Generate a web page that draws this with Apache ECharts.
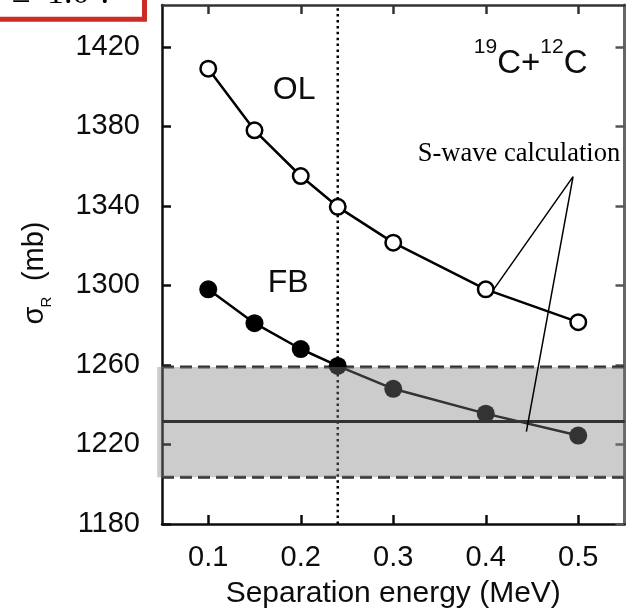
<!DOCTYPE html>
<html>
<head>
<meta charset="utf-8">
<script src="https://cdn.jsdelivr.net/npm/echarts@6/dist/echarts.min.js"></script>
<style>
  html, body { margin: 0; padding: 0; background: #fff; }
  #chart { width: 633px; height: 609px; }
</style>
</head>
<body>
<div id="chart"></div>
<script>
// ---- data ----
const sepEnergy = [0.1, 0.15, 0.2, 0.24, 0.3, 0.4, 0.5];
const olValues  = [1409, 1378, 1355, 1339.5, 1321.5, 1298, 1281.5];
const fbValues  = [1298, 1281, 1268, 1259.5, 1248, 1235.5, 1224.5];
const xTickValues = [0.1, 0.2, 0.3, 0.4, 0.5];
const yTickValues = [1180, 1220, 1260, 1300, 1340, 1380, 1420];
const sWaveMean = 1231.5;
const sWaveLow = 1203.5;
const sWaveHigh = 1259;
const refEnergy = 0.24;

const X_MIN = 0.05, X_MAX = 0.55, Y_MIN = 1180, Y_MAX = 1441;
const FONT = "'Liberation Sans', Arial, Helvetica, sans-serif";
const SERIF = "'Liberation Serif', 'Times New Roman', serif";
const INK = '#0d0d0d';

const chart = echarts.init(document.getElementById('chart'), null, { renderer: 'canvas' });

function pairs(xs, ys) { return xs.map((x, i) => [x, ys[i]]); }

const xFmt = v => xTickValues.includes(+(+v).toFixed(2)) ? (+v).toFixed(1) : '';
const yFmt = v => yTickValues.includes(Math.round(v)) && Math.abs(v - Math.round(v)) < 1e-6 ? String(Math.round(v)) : '';

function axisBase(color, width) {
  return {
    axisLine: { show: true, onZero: false, lineStyle: { color: color, width: width } },
    splitLine: { show: false },
  };
}

const option = {
  animation: false,
  backgroundColor: '#fff',
  grid: { left: 162, right: 8.5, top: 5, bottom: 85, containLabel: false, outerBoundsMode: 'none' },
  xAxis: [
    Object.assign(axisBase(INK, 2.5), {
      type: 'value', position: 'bottom', min: X_MIN, max: X_MAX,
      axisTick: { show: true, inside: true, length: 9, customValues: xTickValues, lineStyle: { color: INK, width: 2.5 } },
      axisLabel: { show: true, customValues: xTickValues, formatter: xFmt, margin: 19,
                   color: INK, fontSize: 29, fontFamily: FONT },
      name: 'Separation energy (MeV)', nameLocation: 'middle', nameGap: 53,
      nameTextStyle: { color: INK, fontSize: 30, fontFamily: FONT, lineHeight: 34 }
    }),
    Object.assign(axisBase('#333', 2.5), {
      type: 'value', position: 'top', min: X_MIN, max: X_MAX,
      axisTick: { show: true, inside: true, length: 9, customValues: xTickValues, lineStyle: { color: '#333', width: 2.5 } },
      axisLabel: { show: false }
    })
  ],
  yAxis: [
    Object.assign(axisBase(INK, 2.5), {
      type: 'value', position: 'left', min: Y_MIN, max: Y_MAX,
      axisTick: { show: true, inside: true, length: 9, customValues: yTickValues, lineStyle: { color: INK, width: 2.5 } },
      axisLabel: { show: true, customValues: yTickValues, formatter: yFmt, margin: 22,
                   color: INK, fontSize: 29, fontFamily: FONT }
    }),
    Object.assign(axisBase('#666', 3), {
      type: 'value', position: 'right', min: Y_MIN, max: Y_MAX,
      axisTick: { show: true, inside: true, length: 9, customValues: yTickValues, lineStyle: { color: '#555', width: 2.5 } },
      axisLabel: { show: false }
    })
  ],
  series: [
    {
      name: 'OL', type: 'line', z: 2,
      data: pairs(sepEnergy, olValues),
      symbol: 'circle', symbolSize: 15.5,
      itemStyle: { color: '#fff', borderColor: '#000', borderWidth: 2.5 },
      lineStyle: { color: '#000', width: 2.5 },
      emphasis: { disabled: true }, silent: true
    },
    {
      name: 'FB', type: 'line', z: 2,
      data: pairs(sepEnergy, fbValues),
      symbol: 'circle', symbolSize: 18,
      itemStyle: { color: '#000' },
      lineStyle: { color: '#000', width: 2.5 },
      emphasis: { disabled: true }, silent: true
    },
    {
      name: 'ref energy', type: 'line', z: 2, symbol: 'none',
      data: [[refEnergy, Y_MIN], [refEnergy, Y_MAX]],
      lineStyle: { color: '#000', width: 2.5, type: [2.5, 3.4] }, silent: true
    },
    {
      name: 'S-wave mean', type: 'line', z: 2, symbol: 'none',
      data: [[X_MIN, sWaveMean], [X_MAX, sWaveMean]],
      lineStyle: { color: '#000', width: 3 }, silent: true
    },
    {
      name: 'S-wave high', type: 'line', z: 2, symbol: 'none',
      data: [[X_MIN, sWaveHigh], [X_MAX, sWaveHigh]],
      lineStyle: { color: '#333', width: 3, type: [12, 6] }, silent: true
    },
    {
      name: 'S-wave low', type: 'line', z: 2, symbol: 'none',
      data: [[X_MIN, sWaveLow], [X_MAX, sWaveLow]],
      lineStyle: { color: '#333', width: 3, type: [12, 6] }, silent: true
    },
    {
      name: 'S-wave band', type: 'custom', z: 3, clip: false, silent: true,
      data: [[X_MIN - 0.0052, X_MAX, sWaveLow, sWaveHigh]],
      encode: { x: [0, 1], y: [2, 3] },
      renderItem: function (params, api) {
        const p0 = api.coord([api.value(0), api.value(3)]);
        const p1 = api.coord([api.value(1), api.value(2)]);
        return {
          type: 'rect',
          shape: { x: p0[0], y: p0[1], width: p1[0] - p0[0], height: p1[1] - p0[1] },
          style: { fill: 'rgba(128,128,128,0.4)' }
        };
      }
    },
    {
      name: 'S-wave pointer', type: 'line', z: 4, symbol: 'none', silent: true,
      data: [[0.4086, 1298], [0.4944, 1354.7], [0.4439, 1226.5]],
      lineStyle: { color: '#000', width: 1.5 }
    },
    {
      name: 'annotations', type: 'scatter', z: 5, symbolSize: 0, silent: true,
      itemStyle: { opacity: 1 },
      data: [
        { value: [0.1929, 1398.3], label: { show: true, position: 'inside', formatter: 'OL', opacity: 1,
            fontSize: 32, fontFamily: FONT, color: INK } },
        { value: [0.1864, 1301], label: { show: true, position: 'inside', formatter: 'FB', opacity: 1,
            fontSize: 32, fontFamily: FONT, color: INK } },
        { value: [0.4359, 1365.9], label: { show: true, position: 'inside', formatter: 'S-wave calculation', opacity: 1,
            fontSize: 26.5, fontFamily: SERIF, color: '#000' } },
        { value: [0.51, 1411.5], label: { show: true, position: 'inside', align: 'right', opacity: 1,
            formatter: '{sup|19}{c|C+}{sup|12}{c|C}',
            rich: {
              sup: { fontSize: 21, fontFamily: FONT, color: INK, verticalAlign: 'top', lineHeight: 20 },
              c: { fontSize: 33, fontFamily: FONT, color: INK, lineHeight: 54 }
            } } }
      ]
    }
  ],
  graphic: [
    // y-axis title: "σ_R (mb)", rotated to read upward
    { type: 'text', z: 50, x: 35, y: 324.5, rotation: Math.PI / 2,
      style: { text: 'σ', fontSize: 29, fontFamily: FONT, fill: INK, align: 'left', verticalAlign: 'middle' } },
    { type: 'text', z: 50, x: 47, y: 307.5, rotation: Math.PI / 2,
      style: { text: 'R', fontSize: 15, fontFamily: FONT, fill: INK, align: 'left', verticalAlign: 'middle' } },
    { type: 'text', z: 50, x: 35, y: 221.5, rotation: Math.PI / 2,
      style: { text: '(mb)', fontSize: 29, fontFamily: FONT, fill: INK, align: 'right', verticalAlign: 'middle' } },
    // clipped red-framed box at the top-left corner
    { type: 'rect', z: 100, shape: { x: -10, y: -10, width: 154.5, height: 29.2 },
      style: { fill: '#fff', stroke: '#cc2b26', lineWidth: 5 } },
    { type: 'text', z: 101, x: 12, y: 10,
      style: { text: '≥', fontSize: 34, fontFamily: SERIF, fill: '#000', verticalAlign: 'bottom' } },
    { type: 'text', z: 101, x: 47, y: 11,
      style: { text: '1.0 ?', fontSize: 34, fontFamily: SERIF, fill: '#000', verticalAlign: 'bottom' } }
  ]
};

chart.setOption(option);
</script>
</body>
</html>
